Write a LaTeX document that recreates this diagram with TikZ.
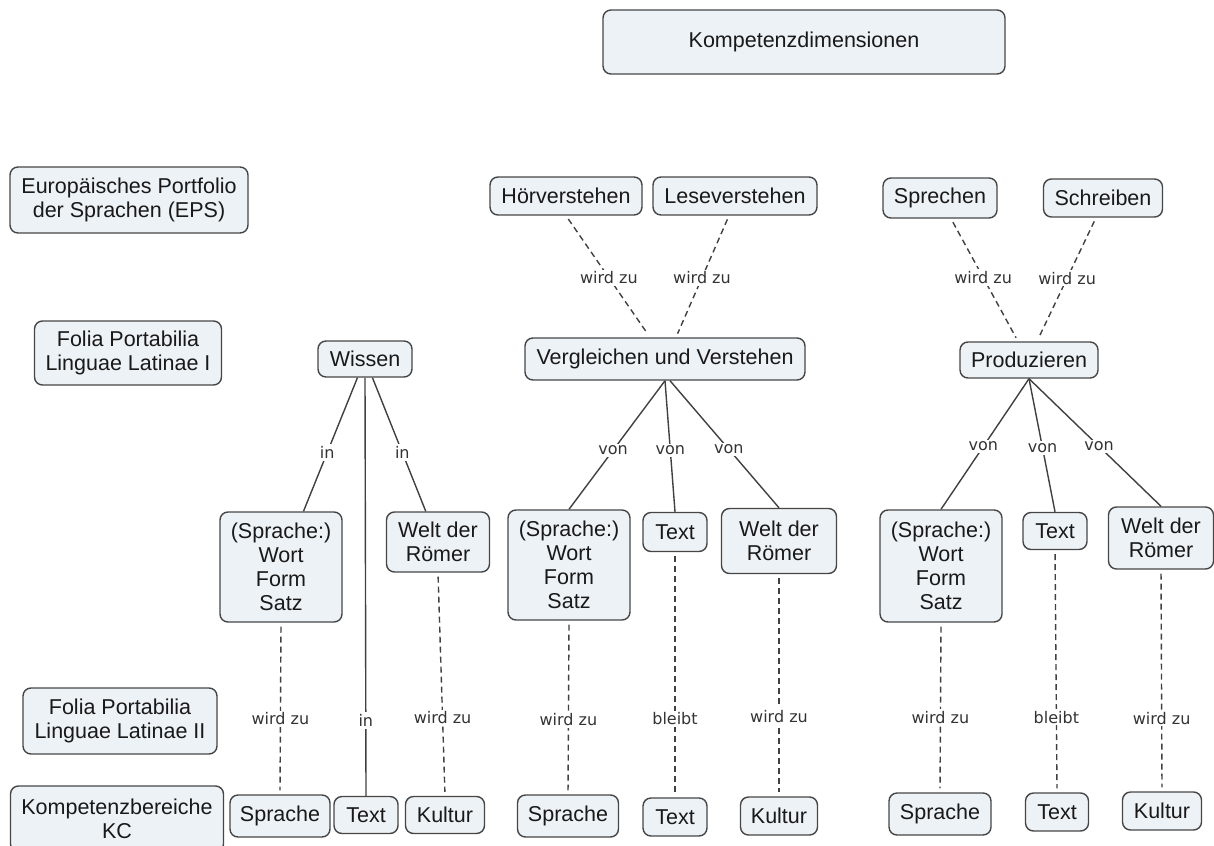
\documentclass[tikz,border=0pt]{standalone}
\usepackage{fontspec}
\setmainfont{Liberation Sans}
\newfontfamily\lblfont{DejaVu Sans}
\usetikzlibrary{calc}

\definecolor{cmapfill}{RGB}{237,242,246}
\definecolor{cmapline}{RGB}{70,70,70}

\begin{document}
\begin{tikzpicture}[
    x=0.5pt, y=-0.5pt,
    concept/.style={rectangle, rounded corners=4pt, draw=cmapline, line width=0.7pt, fill=cmapfill,
        align=center, inner sep=0pt, text=black!90, font=\fontsize{10.75}{12}\selectfont},
    link/.style={draw=black!75, line width=0.7pt},
    dlink/.style={link, dash pattern=on 3pt off 2pt, shorten <=2pt, shorten >=2pt},
    lbl/.style={font=\lblfont\fontsize{8}{9}\selectfont, fill=white, inner sep=1pt, text=black!80}
]
\useasboundingbox (0,0) rectangle (1214,845);

% Top node
\node[concept, minimum width=201pt, minimum height=32pt] (komp) at (804,42) {Kompetenzdimensionen};

% Left column: sources
\node[concept, minimum width=119pt, minimum height=33pt] (eps) at (129,200) {Europäisches Portfolio\\der Sprachen (EPS)};
\node[concept, minimum width=93.5pt, minimum height=32pt] (folia1) at (128,353) {Folia Portabilia\\Linguae Latinae I};
\node[concept, minimum width=97pt, minimum height=33pt] (folia2) at (120,721) {Folia Portabilia\\Linguae Latinae II};
\node[concept, minimum width=106.5pt, minimum height=33pt] (kc) at (117,819) {Kompetenzbereiche\\KC};

% EPS row
\node[concept, minimum width=76pt, minimum height=19pt] (hoer) at (566,196) {Hörverstehen};
\node[concept, minimum width=82pt, minimum height=19pt] (lese) at (735,196) {Leseverstehen};
\node[concept, minimum width=57pt, minimum height=20pt] (sprechen) at (940,198) {Sprechen};
\node[concept, minimum width=59.5pt, minimum height=19pt] (schreiben) at (1103,198) {Schreiben};

% Folia I row
\node[concept, minimum width=47pt, minimum height=18pt] (wissen) at (365,359) {Wissen};
\node[concept, minimum width=140pt, minimum height=21pt] (vgl) at (665,359) {Vergleichen und Verstehen};
\node[concept, minimum width=69pt, minimum height=18pt] (prod) at (1029,360) {Produzieren};

% Children of Wissen
\node[concept, minimum width=61pt, minimum height=55pt] (w_spr) at (281,567) {(Sprache:)\\Wort\\Form\\Satz};
\node[concept, minimum width=51.5pt, minimum height=30pt] (w_welt) at (438,542) {Welt der\\Römer};

% Children of Vergleichen und Verstehen
\node[concept, minimum width=61pt, minimum height=55pt] (v_spr) at (569,565) {(Sprache:)\\Wort\\Form\\Satz};
\node[concept, minimum width=32pt, minimum height=19.5pt] (v_text) at (675,532) {Text};
\node[concept, minimum width=57.5pt, minimum height=32.5pt] (v_welt) at (779,541) {Welt der\\Römer};

% Children of Produzieren
\node[concept, minimum width=61pt, minimum height=56pt] (p_spr) at (941,566) {(Sprache:)\\Wort\\Form\\Satz};
\node[concept, minimum width=32pt, minimum height=18.5pt] (p_text) at (1055,531) {Text};
\node[concept, minimum width=52.5pt, minimum height=31pt] (p_welt) at (1161,538) {Welt der\\Römer};

% KC row
\node[concept, minimum width=50pt, minimum height=21pt] (w_sprache) at (280,816) {Sprache};
\node[concept, minimum width=32pt, minimum height=18.5pt] (w_text) at (366,815) {Text};
\node[concept, minimum width=39.5pt, minimum height=18.5pt] (w_kultur) at (445,815) {Kultur};
\node[concept, minimum width=50.5pt, minimum height=21pt] (v_sprache) at (568,816) {Sprache};
\node[concept, minimum width=32pt, minimum height=19pt] (v_textb) at (675,817) {Text};
\node[concept, minimum width=38.5pt, minimum height=19pt] (v_kultur) at (779,816) {Kultur};
\node[concept, minimum width=51pt, minimum height=21pt] (p_sprache) at (940,814) {Sprache};
\node[concept, minimum width=31.5pt, minimum height=19pt] (p_textb) at (1057,812) {Text};
\node[concept, minimum width=39.5pt, minimum height=19pt] (p_kultur) at (1162,811) {Kultur};

% EPS -> Folia I
\draw[dlink] (hoer.south) -- node[lbl, pos=0.51] {wird zu} ($(vgl.north)+(-15,0)$);
\draw[dlink] ($(lese.south)+(-6,0)$) -- node[lbl, pos=0.51] {wird zu} ($(vgl.north)+(11,0)$);
\draw[dlink] ($(sprechen.south)+(11,0)$) -- node[lbl, pos=0.48] {wird zu} ($(prod.north)+(-11,0)$);
\draw[dlink] ($(schreiben.south)+(-7,0)$) -- node[lbl, pos=0.49] {wird zu} ($(prod.north)+(8,0)$);

% Wissen
\draw[link] (wissen) -- node[lbl, pos=0.56] {in} (w_spr);
\draw[link] (wissen) -- node[lbl, pos=0.56] {in} (w_welt);
\draw[link] (wissen.south) -- node[lbl, pos=0.82] {in} (w_text.north);

% Vergleichen und Verstehen
\draw[link] (vgl.south) -- node[lbl, pos=0.54] {von} (v_spr.north);
\draw[link] (vgl.south) -- node[lbl, pos=0.53] {von} (v_text.north);
\draw[link] ($(vgl.south)+(5,0)$) -- node[lbl, pos=0.54] {von} (v_welt.north);

% Produzieren
\draw[link] (prod.south) -- node[lbl, pos=0.52] {von} (p_spr.north);
\draw[link] (prod.south) -- node[lbl, pos=0.52] {von} (p_text.north);
\draw[link] (prod.south) -- node[lbl, pos=0.53] {von} (p_welt.north);

% Folia II -> KC
\draw[dlink] (w_spr.south) -- node[lbl, pos=0.56] {wird zu} (w_sprache.north);
\draw[dlink] (w_welt.south) -- node[lbl, pos=0.65] {wird zu} (w_kultur.north);
\draw[dlink] (v_spr.south) -- node[lbl, pos=0.57] {wird zu} (v_sprache.north);
\draw[dlink] (v_text.south) -- node[lbl, pos=0.68] {bleibt} (v_textb.north);
\draw[dlink] (v_welt.south) -- node[lbl, pos=0.64] {wird zu} (v_kultur.north);
\draw[dlink] (p_spr.south) -- node[lbl, pos=0.56] {wird zu} (p_sprache.north);
\draw[dlink] (p_text.south) -- node[lbl, pos=0.69] {bleibt} (p_textb.north);
\draw[dlink] (p_welt.south) -- node[lbl, pos=0.67] {wird zu} (p_kultur.north);

\end{tikzpicture}
\end{document}
